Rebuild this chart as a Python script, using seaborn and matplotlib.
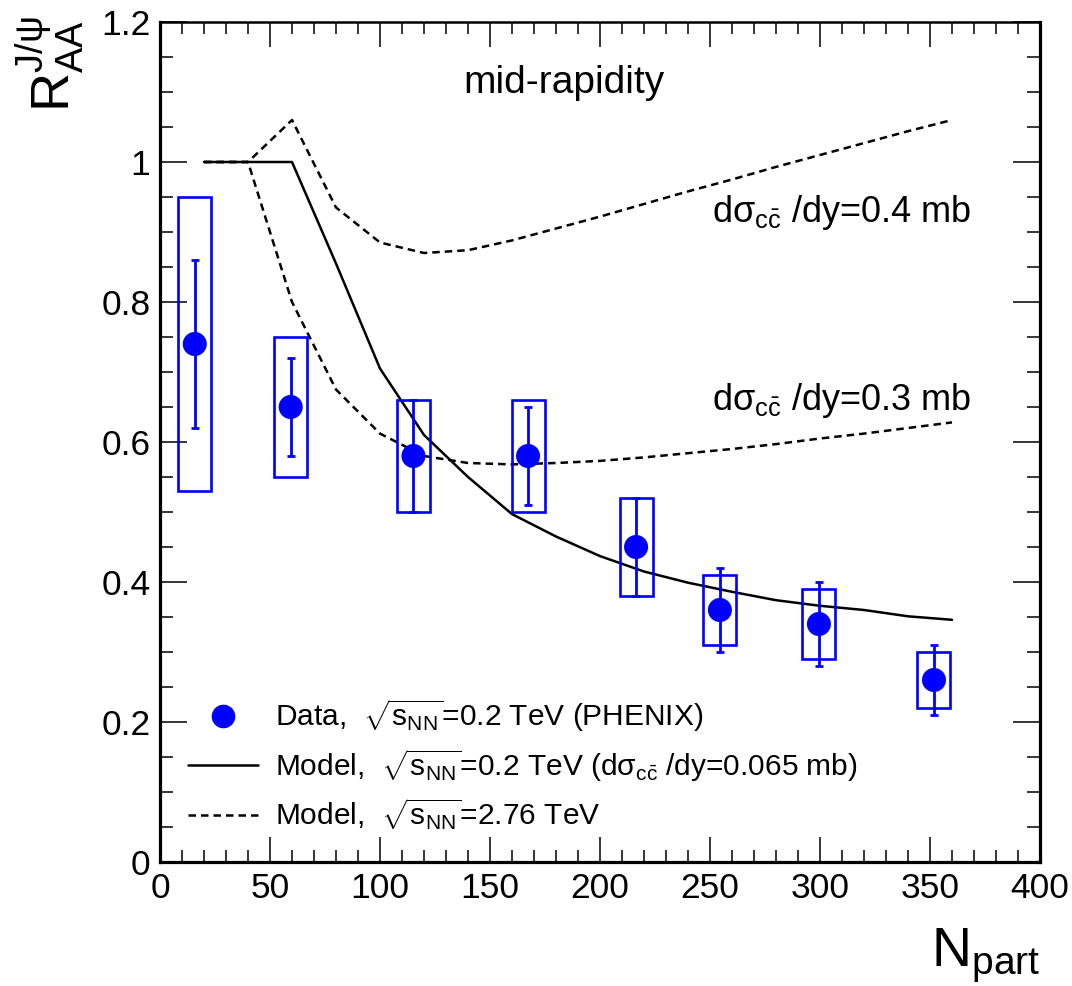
import numpy as np
import pandas as pd
import matplotlib
matplotlib.use("Agg")
import matplotlib.pyplot as plt
from matplotlib.lines import Line2D
from matplotlib.ticker import MultipleLocator
import seaborn as sns

# PHENIX J/psi R_AA at mid-rapidity (Au+Au, 200 GeV)
npart = [15.8, 59.4, 115.2, 167.3, 216.4, 254.5, 299.5, 351.8]
raa = [0.74, 0.65, 0.58, 0.58, 0.45, 0.36, 0.34, 0.26]
stat_lo = [0.62, 0.58, 0.50, 0.51, 0.38, 0.30, 0.28, 0.21]
stat_hi = [0.86, 0.72, 0.66, 0.65, 0.52, 0.42, 0.40, 0.31]
sys_lo = [0.53, 0.55, 0.50, 0.50, 0.38, 0.31, 0.29, 0.22]
sys_hi = [0.95, 0.75, 0.66, 0.66, 0.52, 0.41, 0.39, 0.30]

# Model curves
model_npart = [20, 40, 60, 80, 100, 120, 140, 160, 180, 200, 220, 240, 260, 280, 300, 320, 340, 360]
model_rhic = [1.0, 1.0, 1.0, 0.855, 0.705, 0.61, 0.55, 0.497, 0.465, 0.437, 0.415, 0.399,
              0.386, 0.374, 0.366, 0.360, 0.351, 0.346]
model_lhc_03 = [1.0, 1.0, 0.80, 0.675, 0.612, 0.58, 0.57, 0.568, 0.57, 0.573, 0.578, 0.584,
                0.59, 0.597, 0.605, 0.612, 0.62, 0.628]
model_lhc_04 = [1.0, 1.0, 1.06, 0.935, 0.885, 0.87, 0.874, 0.888, 0.905, 0.922, 0.94, 0.958,
                0.975, 0.993, 1.01, 1.027, 1.044, 1.06]

box_width = 15.0

sns.set_theme(style="ticks")
plt.rcParams["font.family"] = ["Liberation Sans", "DejaVu Sans"]
plt.rcParams["text.color"] = "black"
plt.rcParams["mathtext.fontset"] = "custom"
plt.rcParams["mathtext.rm"] = "Liberation Sans"
plt.rcParams["mathtext.it"] = "Liberation Sans:italic"
plt.rcParams["mathtext.bf"] = "Liberation Sans:bold"
plt.rcParams["mathtext.sf"] = "Liberation Sans"

fig = plt.figure(figsize=(10.72, 9.86), dpi=100)
ax = fig.add_axes([160 / 1072, 1 - 862 / 986, 880 / 1072, 840 / 986])

blue = "#0000ff"
dash = (0, (3, 2))

models = pd.DataFrame({"npart": model_npart, "rhic": model_rhic,
                       "lhc03": model_lhc_03, "lhc04": model_lhc_04})
sns.lineplot(data=models, x="npart", y="lhc04", ax=ax, color="black", lw=1.8,
             linestyle=dash, zorder=2)
sns.lineplot(data=models, x="npart", y="lhc03", ax=ax, color="black", lw=1.8,
             linestyle=dash, zorder=2)
sns.lineplot(data=models, x="npart", y="rhic", ax=ax, color="black", lw=1.8, zorder=2)

# systematic boxes
sys_lo_a = np.array(sys_lo)
sys_hi_a = np.array(sys_hi)
ax.bar(npart, sys_hi_a - sys_lo_a, bottom=sys_lo_a, width=box_width, fill=False,
       edgecolor=blue, linewidth=1.9, zorder=3)

# statistical errors
raa_a = np.array(raa)
yerr = np.vstack([raa_a - np.array(stat_lo), np.array(stat_hi) - raa_a])
ax.errorbar(npart, raa, yerr=yerr, fmt="none", ecolor=blue, elinewidth=2.0,
            capsize=3, capthick=2.0, zorder=4)

data = pd.DataFrame({"npart": npart, "raa": raa})
sns.scatterplot(data=data, x="npart", y="raa", ax=ax, color=blue, s=300,
                edgecolor="none", zorder=5)

ax.set_xlim(0, 400)
ax.set_ylim(0, 1.2)
ax.xaxis.set_major_locator(MultipleLocator(50))
ax.xaxis.set_minor_locator(MultipleLocator(10))
ax.yaxis.set_major_locator(MultipleLocator(0.2))
ax.yaxis.set_minor_locator(MultipleLocator(0.05))
ax.set_xticklabels([f"{int(v)}" for v in ax.get_xticks()])
ax.set_yticklabels(["0" if v == 0 else f"{v:g}" for v in ax.get_yticks()])
ax.tick_params(axis="both", which="both", direction="in", top=True, right=True,
               labelsize=25.5, pad=7, color="black", labelcolor="black")
ax.tick_params(axis="x", which="major", length=18, width=1.1)
ax.tick_params(axis="x", which="minor", length=8.6, width=1.1)
ax.tick_params(axis="y", which="major", length=19.4, width=1.1)
ax.tick_params(axis="y", which="minor", length=9.4, width=1.1)
for side, w in {"left": 2.3, "bottom": 2.3, "right": 2.3, "top": 1.8}.items():
    ax.spines[side].set_linewidth(w)
    ax.spines[side].set_color("black")
ax.set_xlabel("")
ax.set_ylabel("")
ax.grid(False)

fig.text(50 / 1072, 1 - 16 / 986, r"$\mathrm{R}^{\mathrm{J/\psi}}_{\mathrm{AA}}$", rotation=90,
         ha="center", va="top", fontsize=39)
fig.text(1040 / 1072, 1 - 966 / 986, r"$\mathrm{N}_{\mathrm{part}}$", ha="right",
         va="baseline", fontsize=40)

ax.text(0.459, 0.9155, "mid-rapidity", transform=ax.transAxes, ha="center",
        va="baseline", fontsize=28)
ax.text(0.627, 0.762, r"d$\mathrm{σ_{c\bar{c}}}$ /dy=0.4 mb", transform=ax.transAxes,
        ha="left", va="baseline", fontsize=26)
ax.text(0.627, 0.538, r"d$\mathrm{σ_{c\bar{c}}}$ /dy=0.3 mb", transform=ax.transAxes,
        ha="left", va="baseline", fontsize=26)

handles = [
    Line2D([], [], linestyle="none", marker="o", markersize=17, color=blue,
           markeredgecolor="none"),
    Line2D([], [], color="black", lw=1.8),
    Line2D([], [], color="black", lw=1.8, linestyle=dash),
]
labels = [
    r"Data,  $\sqrt{\mathrm{s_{NN}}}$=0.2 TeV (PHENIX)",
    r"Model,  $\sqrt{\mathrm{s_{NN}}}$=0.2 TeV (d$\mathrm{σ_{c\bar{c}}}$ /dy=0.065 mb)",
    r"Model,  $\sqrt{\mathrm{s_{NN}}}$=2.76 TeV",
]
ax.legend(handles, labels, loc="upper left", bbox_to_anchor=(0.032, 0.196),
          frameon=False, fontsize=21.5, handlelength=2.35, handletextpad=0.55,
          labelspacing=0.42, borderpad=0, borderaxespad=0)

fig.savefig("out.png", dpi=100)
